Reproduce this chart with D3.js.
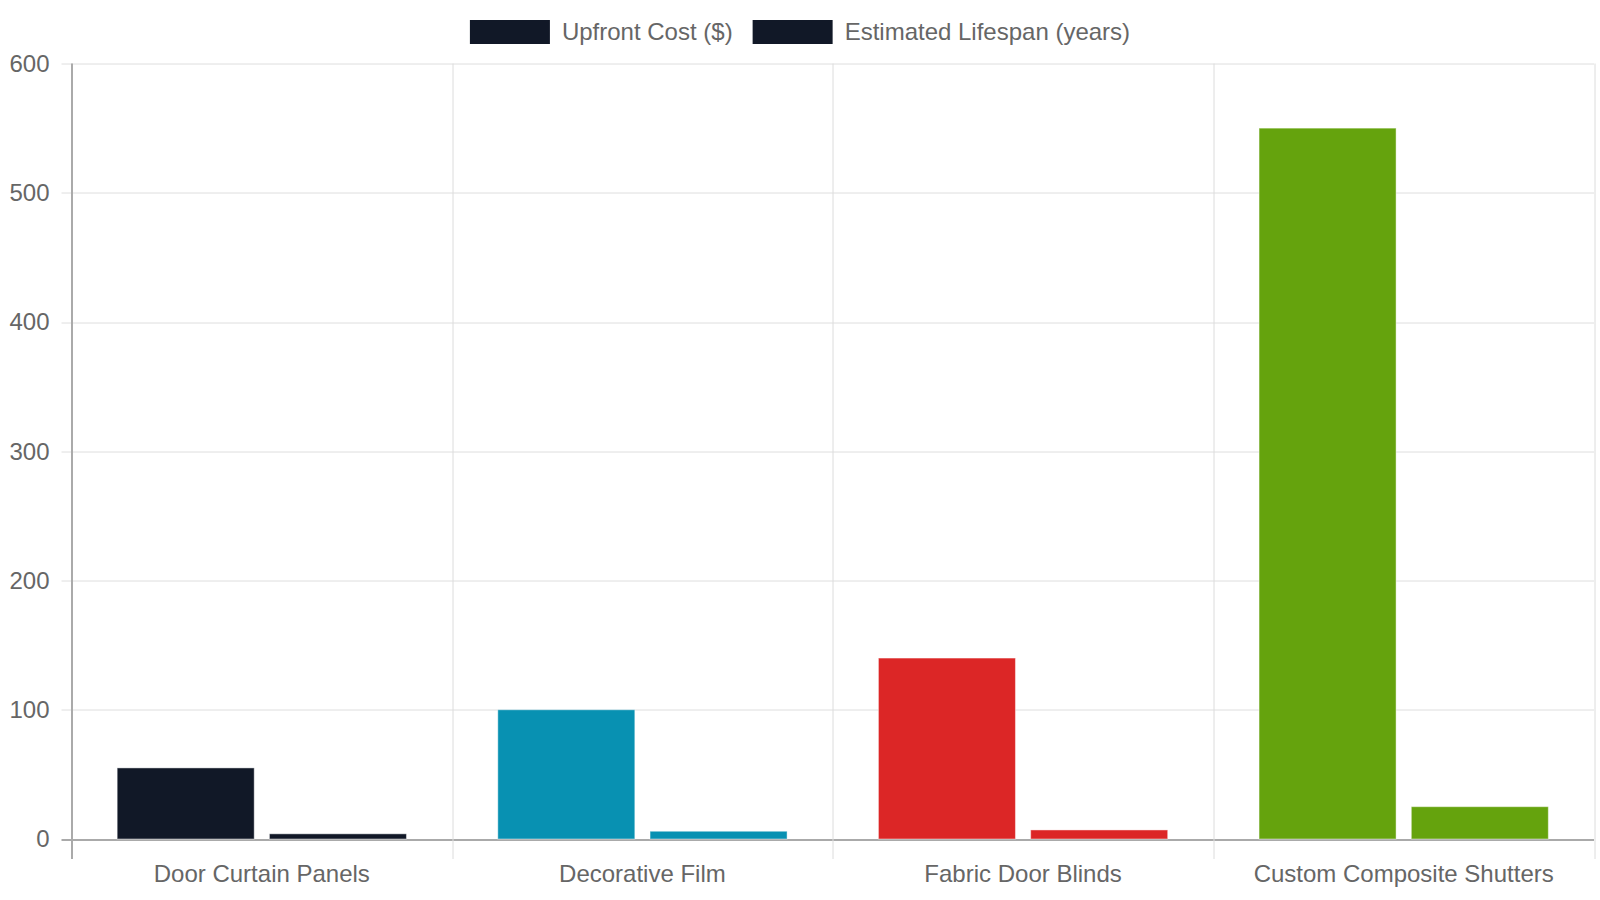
<!DOCTYPE html>
<html>
<head>
<meta charset="utf-8">
<script src="https://cdn.jsdelivr.net/npm/d3@7"></script>
<style>
    body { margin: 0; background: #fff; }
    text { font-family: "Liberation Sans", Arial, Helvetica, sans-serif; fill: #666; }
</style>
</head>
<body>
<svg id="chart" width="1600" height="900"></svg>
<script>
var categories = ["Door Curtain Panels", "Decorative Film", "Fabric Door Blinds", "Custom Composite Shutters"];
var seriesNames = ["Upfront Cost ($)", "Estimated Lifespan (years)"];
var upfrontCost = [55, 100, 140, 550];
var lifespan = [4, 6, 7, 25];
var barColors = ["#111827", "#0891b2", "#dc2626", "#65a30d"];
var yTicks = [0, 100, 200, 300, 400, 500, 600];

var svg = d3.select("#chart");
var margin = {top: 63.5, right: 6, bottom: 61, left: 71.5},
    width = 1600 - margin.left - margin.right,
    height = 900 - margin.top - margin.bottom;

var g = svg.append("g")
    .attr("transform", "translate(" + margin.left + "," + margin.top + ")");

var x0 = d3.scaleBand()
    .domain(categories)
    .range([0, width])
    .padding(0);

var bw = x0.bandwidth();
var x1 = d3.scaleBand()
    .domain(seriesNames)
    .range([bw * 0.1, bw * 0.9])
    .paddingInner(0.1)
    .paddingOuter(0.05);

var y = d3.scaleLinear()
    .domain([0, 600])
    .range([height, 0]);

// horizontal grid + tick marks
g.selectAll(".hgrid")
    .data(yTicks)
    .enter().append("line")
    .attr("x1", -10)
    .attr("x2", width)
    .attr("y1", function (d) { return Math.round(y(d)) + 0.5; })
    .attr("y2", function (d) { return Math.round(y(d)) + 0.5; })
    .style("stroke", function (d) { return d === 0 ? "#aaa" : "#dedede"; })
    .style("stroke-width", function (d) { return d === 0 ? 2 : 1; });

// vertical grid at category boundaries
var vlines = categories.map(function (c) { return x0(c); }).concat([width]);
g.selectAll(".vgrid")
    .data(vlines)
    .enter().append("line")
    .attr("x1", function (d) { return Math.round(d) + 0.5; })
    .attr("x2", function (d) { return Math.round(d) + 0.5; })
    .attr("y1", 0)
    .attr("y2", height + 20)
    .style("stroke", function (d, i) { return i === 0 ? "#aaa" : "#dcdcdc"; })
    .style("stroke-width", function (d, i) { return i === 0 ? 2 : 1; });

// y tick labels
g.selectAll(".ylab")
    .data(yTicks)
    .enter().append("text")
    .attr("x", -22)
    .attr("y", function (d) { return y(d); })
    .attr("dy", "0.35em")
    .attr("text-anchor", "end")
    .style("font-size", "24px")
    .text(function (d) { return d; });

// x labels
g.selectAll(".xlab")
    .data(categories)
    .enter().append("text")
    .attr("x", function (d) { return x0(d) + bw / 2; })
    .attr("y", height + 35)
    .attr("dy", "0.35em")
    .attr("text-anchor", "middle")
    .style("font-size", "24px")
    .text(function (d) { return d; });

// bars
var rows = categories.map(function (c, i) {
    return {cat: c, color: barColors[i], values: [upfrontCost[i], lifespan[i]]};
});

var groups = g.selectAll(".cat")
    .data(rows)
    .enter().append("g")
    .attr("transform", function (d) { return "translate(" + x0(d.cat) + ",0)"; });

groups.selectAll("rect")
    .data(function (d) {
        return d.values.map(function (v, j) { return {key: seriesNames[j], value: v, color: d.color}; });
    })
    .enter().append("rect")
    .attr("x", function (d) { return x1(d.key); })
    .attr("y", function (d) { return y(d.value); })
    .attr("width", x1.bandwidth())
    .attr("height", function (d) { return height - y(d.value); })
    .style("fill", function (d) { return d.color; })
    .style("stroke", "rgba(255,255,255,0.45)")
    .style("stroke-width", 1);

// legend
var legend = svg.append("g");
var lx = 0;
seriesNames.forEach(function (name, i) {
    var item = legend.append("g").attr("transform", "translate(" + lx + ",0)");
    item.append("rect")
        .attr("x", 0)
        .attr("y", 20)
        .attr("width", 80)
        .attr("height", 24)
        .style("fill", barColors[0]);
    var t = item.append("text")
        .attr("x", 92)
        .attr("y", 32)
        .attr("dy", "0.35em")
        .style("font-size", "24px")
        .text(name);
    lx += 92 + t.node().getComputedTextLength() + 20;
});
lx -= 20;
legend.attr("transform", "translate(" + (800 - lx / 2) + ",0)");
</script>
</body>
</html>
